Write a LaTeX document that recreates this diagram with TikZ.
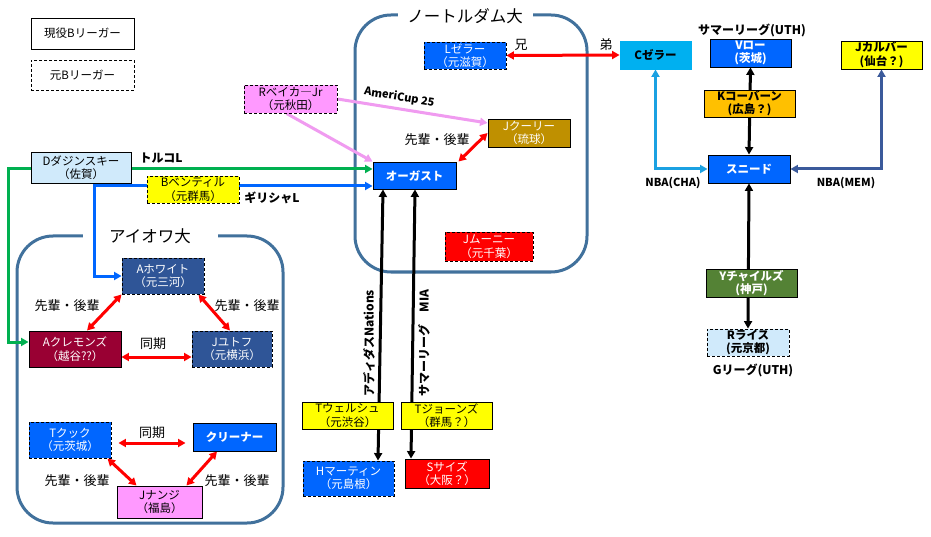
\documentclass[tikz,border=0pt]{standalone}
\usepackage{fontspec}
\setmainfont{Noto Sans CJK JP}
\usetikzlibrary{arrows.meta}
\pgfdeclarelayer{bg}\pgfdeclarelayer{ln}\pgfsetlayers{bg,ln,main}
\definecolor{cBlue}{RGB}{0,102,255}
\definecolor{cDkBlue}{RGB}{47,85,151}
\definecolor{cDkRed}{RGB}{153,0,51}
\definecolor{cPink}{RGB}{255,153,255}
\definecolor{cYel}{RGB}{255,255,0}
\definecolor{cOrange}{RGB}{255,192,0}
\definecolor{cGold}{RGB}{191,144,0}
\definecolor{cGreenBox}{RGB}{84,130,53}
\definecolor{cLtBlue}{RGB}{208,234,251}
\definecolor{cSky}{RGB}{0,176,240}
\definecolor{cRed}{RGB}{255,0,0}
\definecolor{cBoxRed}{RGB}{255,0,0}
\definecolor{cGreenLn}{RGB}{0,176,80}
\definecolor{cSkyLn}{RGB}{27,161,226}
\definecolor{cNavyLn}{RGB}{59,90,155}
\definecolor{cPinkLn}{RGB}{240,155,240}
\definecolor{cFrame}{RGB}{65,113,156}
\tikzset{
  box/.style={draw=black, line width=0.9pt, inner sep=0pt, align=center,
    font=\fontsize{11.5}{13.5}\selectfont},
  dbox/.style={box, dash pattern=on 3pt off 2pt},
  bbox/.style={box, font=\fontsize{11.5}{13.5}\selectfont\bfseries},
  conn/.style={line width=3pt, {Triangle[length=7.5pt,width=8pt]}-{Triangle[length=7.5pt,width=8pt]}},
  oneway/.style={line width=3pt, -{Triangle[length=7.5pt,width=8pt]}},
  lbl/.style={font=\fontsize{13}{15}\selectfont, inner sep=1pt},
  blbl/.style={font=\fontsize{12}{14}\selectfont\bfseries, inner sep=1pt},
  ttl/.style={font=\fontsize{16.5}{18}\selectfont, fill=white, minimum width=135pt, inner sep=2pt},
  frame/.style={draw=cFrame, line width=3pt, rounded corners=36pt},
}
\begin{document}
\begin{tikzpicture}[x=1pt,y=-1pt]
\useasboundingbox (0,0) rectangle (931,537);

% frames
\begin{pgfonlayer}{bg}
\fill[white] (0,0) rectangle (931,537);
\draw[frame] (355,15) rectangle (587,272);
\node[ttl] (ndt) at (465,16) {ノートルダム大};
\draw[frame] (17,236) rectangle (283,523);
\node[ttl] (iwt) at (150,236) {アイオワ大};
\end{pgfonlayer}

% legend
\node[box, minimum width=103pt, minimum height=31pt] (leg1) at (82.5,33.5) {現役Bリーガー};
\node[dbox, minimum width=103pt, minimum height=30pt] (leg2) at (82.5,75) {元Bリーガー};

% Notre Dame
\node[dbox, fill=cBlue, text=white, minimum width=82pt, minimum height=27pt] (lz) at (465,55.5) {Lゼラー\\（元滋賀）};
\node[box, fill=cGold, text=white, minimum width=82pt, minimum height=28pt] (cooley) at (529,133) {Jクーリー\\（琉球）};
\node[bbox, fill=cBlue, text=white, minimum width=83pt, minimum height=27pt] (aug) at (414.5,175.5) {オーガスト};
\node[dbox, fill=cBoxRed, text=white, minimum width=88pt, minimum height=29pt] (mooney) at (489,246.5) {Jムーニー\\（元千葉）};

% left outside
\node[dbox, fill=cPink, minimum width=93pt, minimum height=28pt] (baker) at (290.5,99) {Rベイカ―Jr\\（元秋田）};
\node[box, fill=cLtBlue, minimum width=100pt, minimum height=31pt] (dudz) at (81,167.5) {Dダジンスキー\\（佐賀）};
\node[dbox, fill=cYel, minimum width=92pt, minimum height=27pt] (bentil) at (193,189.5) {Bベンティル\\（元群馬）};

% Iowa
\node[dbox, fill=cDkBlue, text=white, minimum width=82pt, minimum height=36pt] (white) at (163,276) {Aホワイト\\（元三河）};
\node[box, fill=cDkRed, text=white, minimum width=92pt, minimum height=36pt] (clem) at (75,349) {Aクレモンズ\\（越谷??）};
\node[dbox, fill=cDkBlue, text=white, minimum width=80pt, minimum height=36pt] (utoft) at (232,349) {Jユトフ\\（元横浜）};
\node[dbox, fill=cBlue, text=white, minimum width=82pt, minimum height=36pt] (cook) at (70,440) {Tクック\\（元茨城）};
\node[bbox, fill=cBlue, text=white, minimum width=83pt, minimum height=28pt] (crean) at (234.5,437) {クリーナー};
\node[box, fill=cPink, minimum width=85pt, minimum height=32pt] (nunge) at (159.5,502) {Jナンジ\\（福島）};

% bottom middle
\node[box, fill=cYel, minimum width=91pt, minimum height=27pt] (welsh) at (347.5,415.5) {Tウェルシュ\\（元渋谷）};
\node[box, fill=cYel, minimum width=91pt, minimum height=27pt] (jones) at (446.5,415.5) {Tジョーンズ\\（群馬？）};
\node[dbox, fill=cBlue, text=white, minimum width=91pt, minimum height=35pt] (martin) at (348.5,478.5) {Hマーティン\\（元島根）};
\node[box, fill=cBoxRed, text=white, minimum width=84pt, minimum height=29pt] (sy) at (447,473.5) {Sサイズ\\（大阪？）};

% right
\node[box, draw=cSky, fill=cSky, minimum width=71pt, minimum height=28pt, font=\fontsize{11.5}{13.5}\selectfont\bfseries] (cz) at (655.5,55) {Cゼラー};
\node[bbox, fill=cBlue, text=white, minimum width=81pt, minimum height=28pt] (vlo) at (750.5,53) {Vロー\\(茨城)};
\node[bbox, fill=cYel, minimum width=81pt, minimum height=28pt] (culver) at (881.5,55) {Jカルバー\\(仙台？)};
\node[bbox, fill=cOrange, minimum width=91pt, minimum height=27pt] (coburn) at (749.5,103.5) {Kコーバーン\\(広島？)};
\node[bbox, fill=cBlue, text=white, minimum width=82pt, minimum height=28pt] (sneed) at (749,169) {スニード};
\node[bbox, fill=cGreenBox, text=white, minimum width=91pt, minimum height=28pt] (childs) at (751.5,283) {Yチャイルズ\\(神戸)};
\node[dbox, fill=cLtBlue, minimum width=82pt, minimum height=27pt, font=\fontsize{11.5}{13.5}\selectfont\bfseries] (rice) at (748,342.5) {Rライス\\(元京都)};

% labels
\node[lbl] (ani) at (521,45) {兄};
\node[lbl] (otouto) at (606,45) {弟};
\node[lbl] (sk1) at (437,140) {先輩・後輩};
\node[blbl] (turk) at (161,158) {トルコL};
\node[blbl] (greece) at (272,198) {ギリシャL};
\node[lbl] (sk2) at (67,306) {先輩・後輩};
\node[lbl] (sk3) at (247,306) {先輩・後輩};
\node[lbl] (dk1) at (153,344) {同期};
\node[lbl] (dk2) at (152,433) {同期};
\node[lbl] (sk4) at (77,481) {先輩・後輩};
\node[lbl] (sk5) at (237,481) {先輩・後輩};
\node[blbl] (suth) at (752,30) {サマーリーグ(UTH)};
\node[blbl, font=\fontsize{11}{13}\selectfont\bfseries] (nbacha) at (673,183) {NBA(CHA)};
\node[blbl, font=\fontsize{11}{13}\selectfont\bfseries] (nbamem) at (846,183) {NBA(MEM)};
\node[blbl] (guth) at (753,370) {Gリーグ(UTH)};
\node[blbl, rotate=90] (adidas) at (369,343) {アディダスNations};
\node[blbl, rotate=90] (smia) at (424,343) {サマーリーグ\quad MIA};

% connectors
\begin{pgfonlayer}{ln}
\coordinate (g1) at (8,169);
\coordinate (b1) at (94,186);
\draw[conn, cGreenLn] ([yshift=7pt]clem.west) -| (g1) -- (g1 -| aug.west);
\draw[conn, cBlue] (white.west) -| (b1) -- (b1 -| aug.west);
\draw[oneway, cPinkLn] (baker.east) -- node[pos=0.4, above=1pt, sloped, font=\fontsize{11}{13}\selectfont\bfseries, text=black] {AmeriCup 25} ([yshift=10pt]cooley.west);
\draw[oneway, cPinkLn] ([xshift=-4pt]baker.south) -- (aug.north west);
\draw[conn, cRed] ([xshift=2pt]aug.north east) -- (cooley.west);
\draw[conn, cRed] (lz.east) -- (cz.west);
\draw[conn, black] ([xshift=-31.5pt]aug.south) -- ([xshift=29.5pt]martin.north);
\draw[conn, black] ([xshift=0.5pt]aug.south) -- ([xshift=-36pt]sy.north);
\draw[conn, black] (vlo.south) -- (sneed.north);
\draw[conn, black] (sneed.south) -- (rice.north);
\draw[conn, cSkyLn] (cz.south) |- (sneed.west);
\draw[conn, cNavyLn] (culver.south) |- (sneed.east);
\draw[conn, cRed] (white.south west) -- ([xshift=12pt]clem.north);
\draw[conn, cRed] ([xshift=-6pt]white.south east) -- ([xshift=-2pt]utoft.north);
\draw[conn, cRed] ([yshift=-8pt]clem.east) -- ([yshift=-8pt]utoft.west);
\draw[conn, cRed, shorten <=7pt, shorten >=7pt] ([yshift=-3pt]cook.east) -- ([yshift=-6pt]crean.west);
\draw[conn, cRed] ([xshift=-4pt]cook.south east) -- ([xshift=20pt]nunge.north west);
\draw[conn, cRed] ([xshift=-17.5pt]crean.south) -- ([xshift=-16pt]nunge.north east);
\end{pgfonlayer}
\end{tikzpicture}
\end{document}
